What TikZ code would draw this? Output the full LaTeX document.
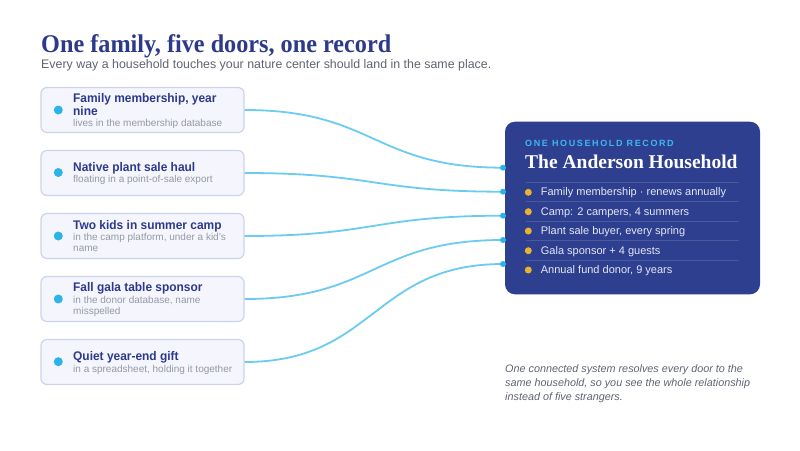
\documentclass[tikz,border=0pt]{standalone}
\usepackage{fontspec}
\setmainfont{Liberation Sans}
\newfontfamily\serifb{Liberation Serif}
\newfontfamily\serifc[FakeStretch=0.95]{Liberation Serif}
\newfontfamily\sansc[FakeStretch=0.955]{Liberation Sans}
\newfontfamily\spaced[LetterSpace=18]{Liberation Sans}
\definecolor{navy}{HTML}{2D3A8C}
\definecolor{cardfill}{HTML}{F5F6FD}
\definecolor{cardline}{HTML}{CDD3EC}
\definecolor{dotc}{HTML}{2BB3EA}
\definecolor{wire}{HTML}{6CCBF0}
\definecolor{recfill}{HTML}{2E3F8F}
\definecolor{cyanlab}{HTML}{3FB8EE}
\definecolor{gold}{HTML}{E6B42F}
\definecolor{sepc}{HTML}{4A5AA0}
\definecolor{itemc}{HTML}{E3E7F5}
\definecolor{grayt}{HTML}{5F6472}
\definecolor{grays}{HTML}{9499A3}
\begin{document}
\begin{tikzpicture}[x=1pt,y=-1pt,
  card/.style={draw=cardline, fill=cardfill, line width=1.2pt, rounded corners=6pt, minimum width=203pt, minimum height=45pt, inner sep=0},
  ttl/.style={anchor=base west, inner sep=0, text=navy, font=\sansc\bfseries\fontsize{12.5}{14}\selectfont},
  sub/.style={anchor=base west, inner sep=0, text=grays, font=\fontsize{10}{12}\selectfont},
  bluedot/.style={circle, fill=dotc, minimum size=9pt, inner sep=0},
  enddot/.style={circle, fill=dotc, minimum size=6pt, inner sep=0},
  golddot/.style={circle, fill=gold, minimum size=7pt, inner sep=0},
  item/.style={anchor=base west, inner sep=0, text=itemc, font=\fontsize{11}{13}\selectfont},
  note/.style={anchor=base west, inner sep=0, text=grayt, font=\itshape\fontsize{10.8}{14}\selectfont},
  wireline/.style={draw=wire, line width=1.8pt},
  sepline/.style={draw=sepc, line width=0.8pt}
]
\useasboundingbox (0,0) rectangle (800,450);
\fill[white] (0,0) rectangle (800,450);

\node[anchor=base west, inner sep=0, text=navy, font=\serifc\bfseries\fontsize{25.5}{30}\selectfont] (title) at (41,52) {One family, five doors, one record};
\node[anchor=base west, inner sep=0, text=grayt, font=\fontsize{12.4}{14}\selectfont] (subtitle) at (41,68) {Every way a household touches your nature center should land in the same place.};

% cards
\node[card] (c1) at (142.5,110) {};
\node[card] (c2) at (142.5,173) {};
\node[card] (c3) at (142.5,236) {};
\node[card] (c4) at (142.5,299) {};
\node[card] (c5) at (142.5,362) {};

\node[bluedot] (d1) at (58.3,110) {};
\node[bluedot] (d2) at (58.3,172.5) {};
\node[bluedot] (d3) at (58.3,236) {};
\node[bluedot] (d4) at (58.3,299) {};
\node[bluedot] (d5) at (58.3,361.7) {};

\node[ttl] (t1a) at (73,102) {Family membership, year};
\node[ttl] (t1b) at (73,115.3) {nine};
\node[sub] (s1) at (73,126.5) {lives in the membership database};

\node[ttl] (t2) at (73,171.7) {Native plant sale haul};
\node[sub] (s2) at (73,182.5) {floating in a point-of-sale export};

\node[ttl] (t3) at (73,229) {Two kids in summer camp};
\node[sub] (s3a) at (73,240) {in the camp platform, under a kid's};
\node[sub] (s3b) at (73,251) {name};

\node[ttl] (t4) at (73,291.7) {Fall gala table sponsor};
\node[sub] (s4a) at (73,303) {in the donor database, name};
\node[sub] (s4b) at (73,314) {misspelled};

\node[ttl] (t5) at (73,360) {Quiet year-end gift};
\node[sub] (s5) at (73,372) {in a spreadsheet, holding it together};

% record box
\node[fill=recfill, rounded corners=10pt, minimum width=255pt, minimum height=172.6pt, inner sep=0] (rec) at (632.5,208) {};

\coordinate (e1) at (503,167.7);
\coordinate (e2) at (503,191.7);
\coordinate (e3) at (503,215.7);
\coordinate (e4) at (503,240);
\coordinate (e5) at (503,264);

\draw[wireline] (c1.east) .. controls +(130,0) and +(-130,0) .. (e1);
\draw[wireline] (c2.east) .. controls +(130,0) and +(-130,0) .. (e2);
\draw[wireline] (c3.east) .. controls +(130,0) and +(-130,0) .. (e3);
\draw[wireline] (c4.east) .. controls +(130,0) and +(-130,0) .. (e4);
\draw[wireline] (c5.east) .. controls +(130,0) and +(-130,0) .. (e5);

\foreach \i in {1,...,5} {\node[enddot] (ed\i) at (e\i) {};}

\node[anchor=base west, inner sep=0, text=cyanlab, font=\spaced\bfseries\fontsize{9}{11}\selectfont] (lab) at (525,146.7) {ONE HOUSEHOLD RECORD};
\node[anchor=base west, inner sep=0, text=white, font=\serifb\bfseries\fontsize{19.5}{22}\selectfont] (name) at (525,168.3) {The Anderson Household};

\draw[sepline] (526,182) -- (739,182);
\draw[sepline] (526,201.7) -- (739,201.7);
\draw[sepline] (526,221) -- (739,221);
\draw[sepline] (526,240.5) -- (739,240.5);
\draw[sepline] (526,260) -- (739,260);

\node[golddot] (g1) at (528.3,192.3) {};
\node[golddot] (g2) at (528.3,211.7) {};
\node[golddot] (g3) at (528.3,231) {};
\node[golddot] (g4) at (528.3,250.7) {};
\node[golddot] (g5) at (528.3,270) {};

\node[item] (i1) at (540.7,195.7) {Family membership · renews annually};
\node[item] (i2) at (540.7,215) {Camp: 2 campers, 4 summers};
\node[item] (i3) at (540.7,234.3) {Plant sale buyer, every spring};
\node[item] (i4) at (540.7,254.3) {Gala sponsor + 4 guests};
\node[item] (i5) at (540.7,273.3) {Annual fund donor, 9 years};

\node[note] (n1) at (505,372.7) {One connected system resolves every door to the};
\node[note] (n2) at (505,386.7) {same household, so you see the whole relationship};
\node[note] (n3) at (505,400.5) {instead of five strangers.};
\end{tikzpicture}
\end{document}
